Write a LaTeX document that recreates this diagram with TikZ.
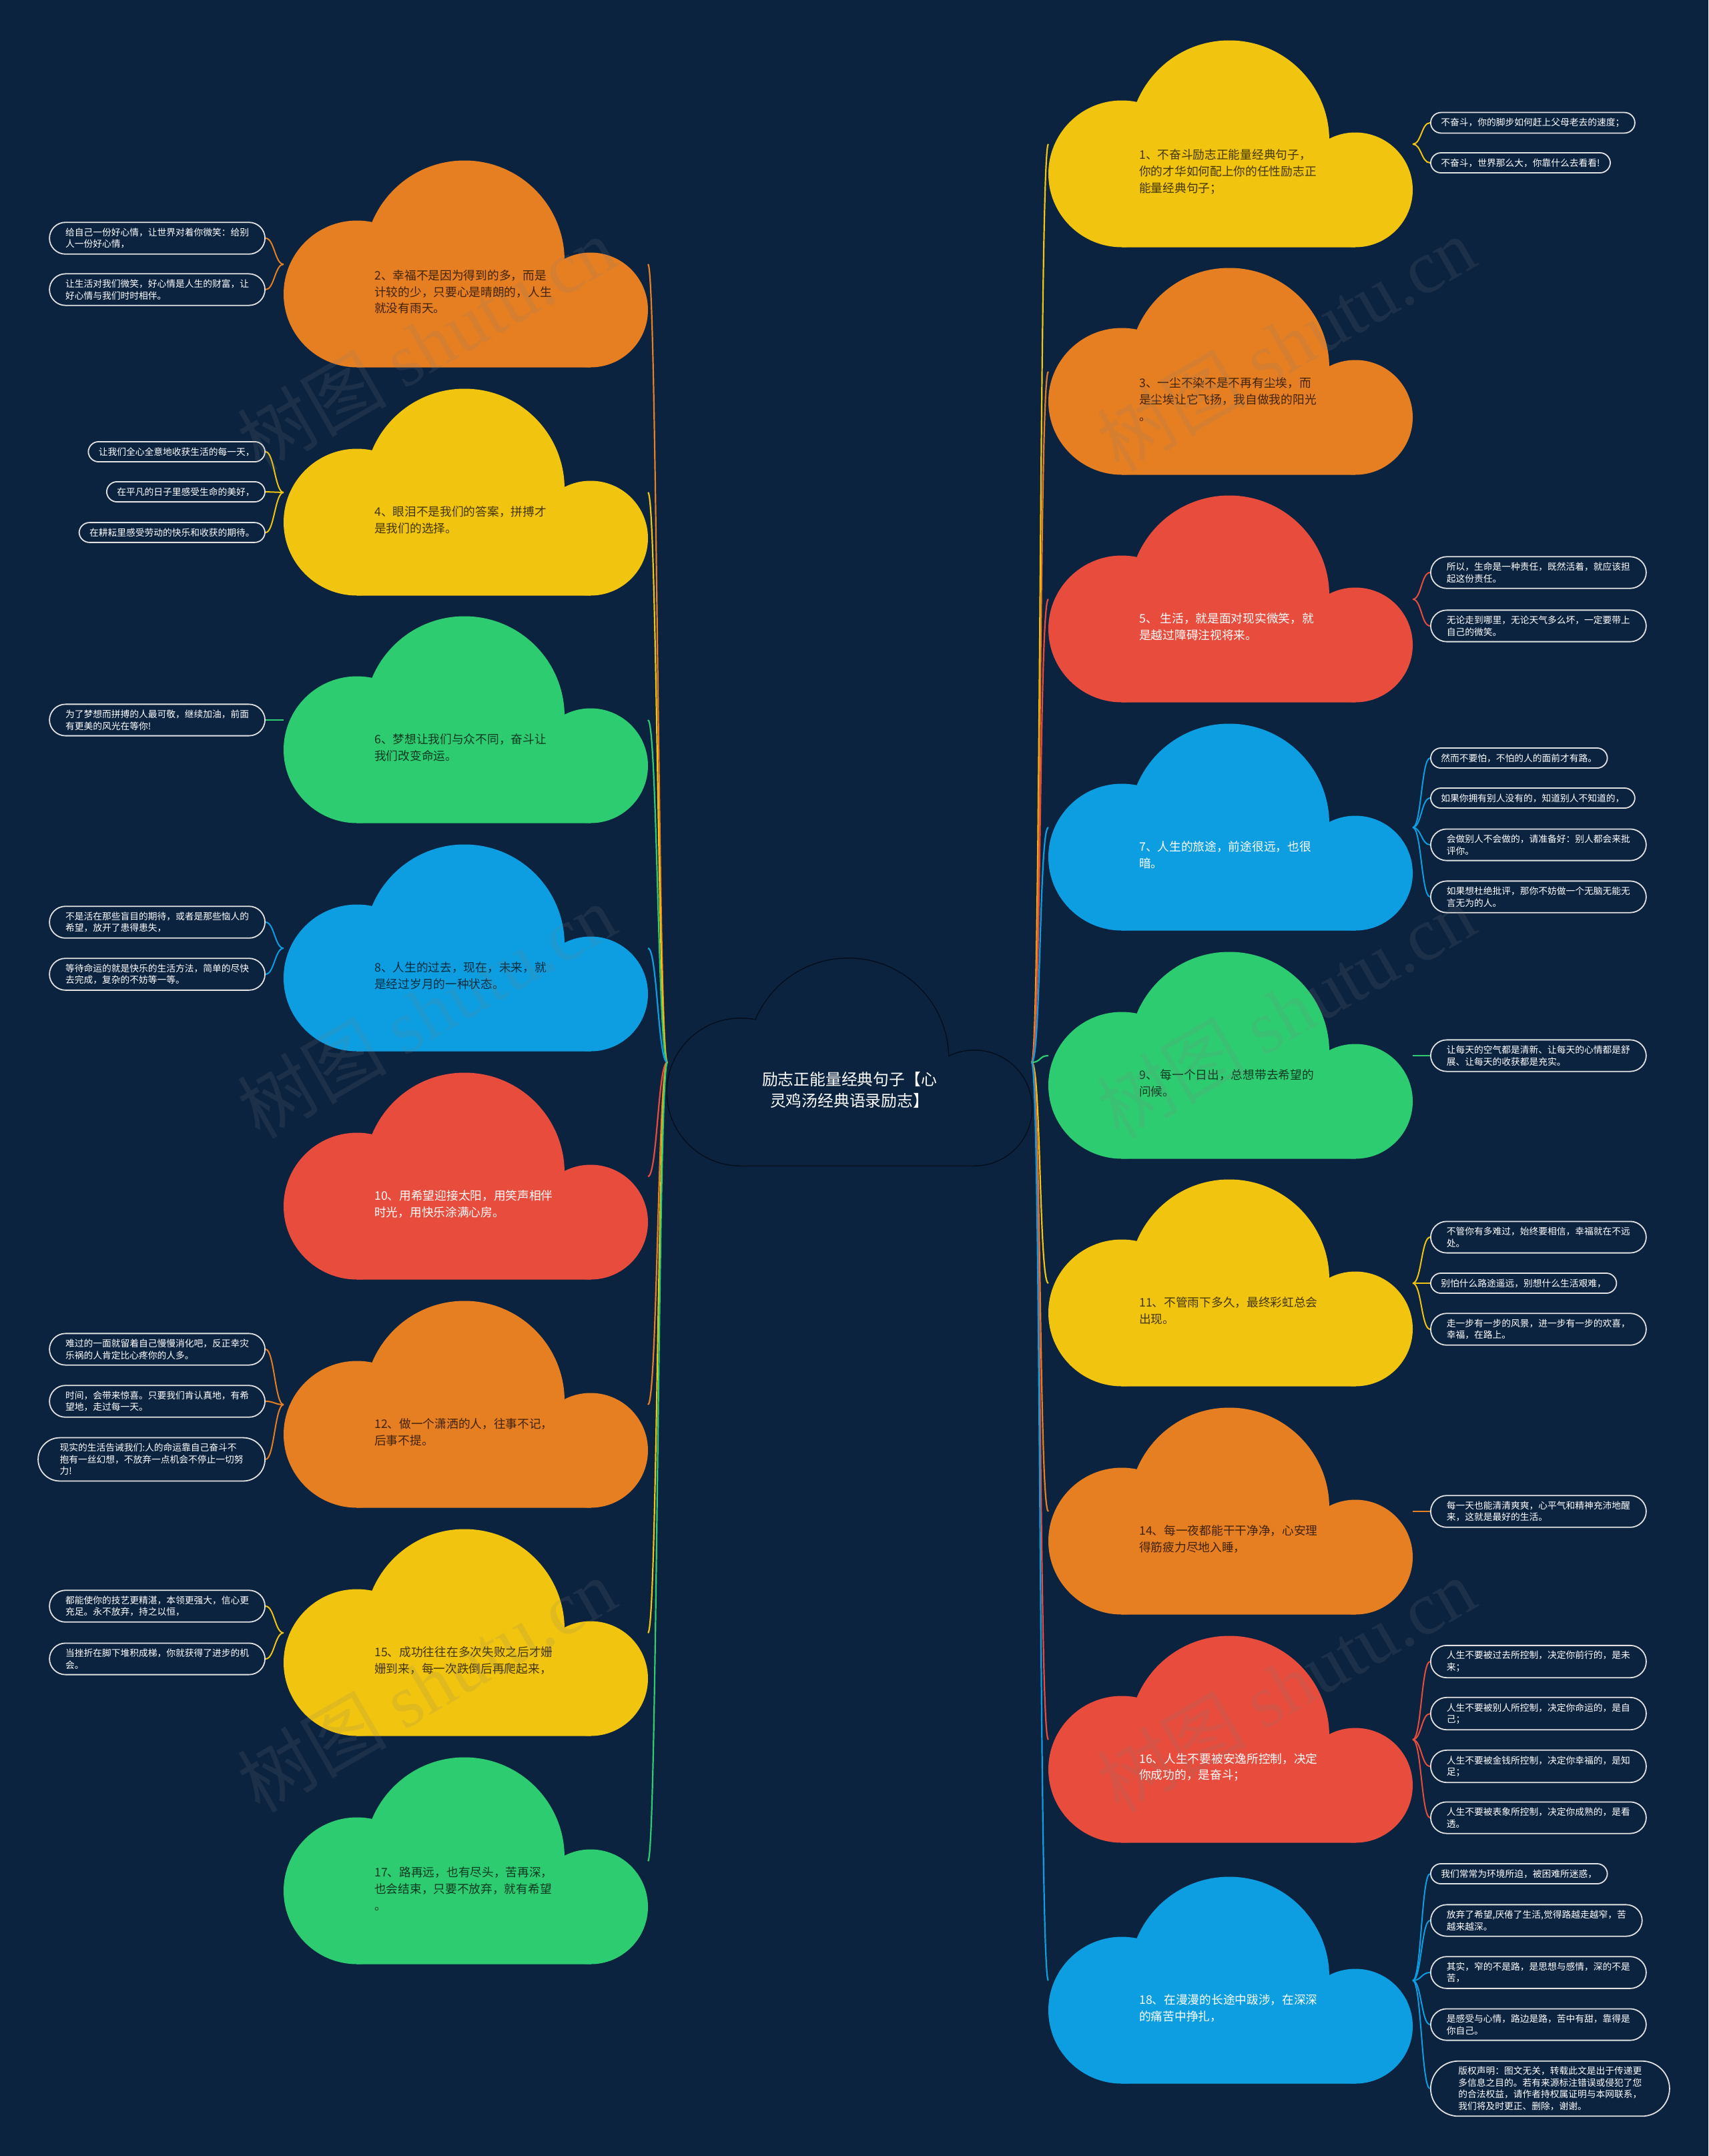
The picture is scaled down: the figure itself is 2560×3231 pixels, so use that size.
\documentclass[tikz,border=0pt]{standalone}
\usepackage{fontspec}
\newfontfamily\cjk{Noto Sans CJK SC}
\newfontfamily\wmserif{Liberation Serif}
\usetikzlibrary{backgrounds}
\definecolor{bg}{RGB}{12,35,64}
\definecolor{corange}{RGB}{230,126,34}
\definecolor{cyellow}{RGB}{241,196,15}
\definecolor{cred}{RGB}{231,76,60}
\definecolor{cgreen}{RGB}{46,204,113}
\definecolor{cblue}{RGB}{12,158,225}
\definecolor{leafborder}{RGB}{225,225,225}
\definecolor{ctrline}{RGB}{4,14,28}
\newcommand\drawcloudshape[1]{%
 \fill[#1] (110,110) circle[radius=110];
 \fill[#1] (271,160) circle[radius=150];
 \fill[#1] (460,86) circle[radius=86];
 \fill[#1] (110,0) -- (460,0) -- (460,86) -- (271,160) -- (110,110) -- cycle;}
\newcommand\cloud[6]{%
 \node[cloudbox] (#1) at (#2,-#3) {};
 \begin{scope}[shift={(#1.south west)}]
  \drawcloudshape{#4}
  \node[cloudtext,#5] (#1t) at (136,113) {#6};
 \end{scope}}
\begin{document}
\begin{tikzpicture}[x=1pt,y=1pt,
 cloudbox/.style={minimum width=546, minimum height=309, inner sep=0, outer sep=0},
 cloudtext/.style={anchor=west, align=left, inner sep=0, font=\cjk\fontsize{17.7}{24.7}\selectfont},
 dk/.style={text=black, text opacity=0.72},
 wt/.style={text=white},
 leaf/.style={rectangle, rounded corners=#1, draw=leafborder, line width=1.8, fill=bg, text=white, align=left, inner xsep=#1, inner ysep=8.5, font=\cjk\fontsize{13.75}{17.5}\selectfont},
 la/.style={leaf=15.5},
 lb/.style={leaf=24},
 lc/.style={leaf=32.5},
 ld/.style={leaf=41.5},
 main/.style={line width=2.2},
 sub/.style={line width=2},
 wmark/.style={rotate=30, text=gray, text opacity=0.15, inner sep=0, font=\fontsize{112}{112}\selectfont}]
\useasboundingbox (0,0) rectangle (2560,-3231);
\begin{scope}[on background layer]
\fill[bg] (0,0) rectangle (2560,-3231);
\end{scope}
% center cloud
\node[cloudbox] (ctr) at (1273,-1592) {};
\begin{scope}[shift={(ctr.south west)}]
 \draw[ctrline,line width=3] (110,110) circle[radius=110];
 \draw[ctrline,line width=3] (271,160) circle[radius=150];
 \draw[ctrline,line width=3] (460,86) circle[radius=86];
 \draw[ctrline,line width=3] (110,0) -- (460,0);
 \drawcloudshape{bg}
 \node[align=center, text=white, inner sep=0, font=\cjk\fontsize{23.8}{32}\selectfont] (ctrt) at (273,113) {励志正能量经典句子【心\\灵鸡汤经典语录励志】};
\end{scope}
% right clouds
\cloud{c1}{1844}{216}{cyellow}{dk}{1、不奋斗励志正能量经典句子，\\你的才华如何配上你的任性励志正\\能量经典句子；}
\cloud{c3}{1844}{557}{corange}{dk}{3、一尘不染不是不再有尘埃，而\\是尘埃让它飞扬，我自做我的阳光\\。}
\cloud{c5}{1844}{898}{cred}{wt}{5、 生活，就是面对现实微笑，就\\是越过障碍注视将来。}
\cloud{c7}{1844}{1240}{cblue}{wt}{7、人生的旅途，前途很远，也很\\暗。}
\cloud{c9}{1844}{1582}{cgreen}{dk}{9、 每一个日出，总想带去希望的\\问候。}
\cloud{c11}{1844}{1923}{cyellow}{dk}{11、不管雨下多久，最终彩虹总会\\出现。}
\cloud{c14}{1844}{2265}{corange}{dk}{14、每一夜都能干干净净，心安理\\得筋疲力尽地入睡，}
\cloud{c16}{1844}{2607}{cred}{wt}{16、人生不要被安逸所控制，决定\\你成功的，是奋斗；}
\cloud{c18}{1844}{2968}{cblue}{wt}{18、在漫漫的长途中跋涉，在深深\\的痛苦中挣扎，}
% left clouds
\cloud{c2}{698}{396}{corange}{dk}{2、幸福不是因为得到的多，而是\\计较的少，只要心是晴朗的，人生\\就没有雨天。}
\cloud{c4}{698}{738}{cyellow}{dk}{4、眼泪不是我们的答案，拼搏才\\是我们的选择。}
\cloud{c6}{698}{1079}{cgreen}{dk}{6、梦想让我们与众不同，奋斗让\\我们改变命运。}
\cloud{c8}{698}{1421}{cblue}{dk}{8、人生的过去，现在，未来，就\\是经过岁月的一种状态。}
\cloud{c10}{698}{1763}{cred}{wt}{10、用希望迎接太阳，用笑声相伴\\时光，用快乐涂满心房。}
\cloud{c12}{698}{2105}{corange}{dk}{12、做一个潇洒的人，往事不记，\\后事不提。}
\cloud{c15}{698}{2447}{cyellow}{dk}{15、成功往往在多次失败之后才姗\\姗到来，每一次跌倒后再爬起来，}
\cloud{c17}{698}{2789}{cgreen}{dk}{17、路再远，也有尽头，苦再深，\\也会结束，只要不放弃，就有希望\\。}
% main connectors
\begin{scope}[on background layer]
\foreach \n/\col in {c2/corange,c4/cyellow,c6/cgreen,c8/cblue,c10/cred,c12/corange,c15/cyellow,c17/cgreen}
  \draw[main,\col] (ctr.west) .. controls +(-14,0) and +(14,0) .. (\n.east);
\foreach \n/\col in {c1/cyellow,c3/corange,c5/cred,c7/cblue,c9/cgreen,c11/cyellow,c14/corange,c16/cred,c18/cblue}
  \draw[main,\col] (ctr.east) .. controls +(14,0) and +(-14,0) .. (\n.west);
\end{scope}
% left leaves
\node[lb,anchor=east] (l2a) at (398,-357) {给自己一份好心情，让世界对着你微笑：给别\\人一份好心情，};
\node[lb,anchor=east] (l2b) at (398,-434) {让生活对我们微笑，好心情是人生的财富，让\\好心情与我们时时相伴。};
\node[la,anchor=east] (l4a) at (398,-677) {让我们全心全意地收获生活的每一天，};
\node[la,anchor=east] (l4b) at (398,-737) {在平凡的日子里感受生命的美好，};
\node[la,anchor=east] (l4c) at (398,-798) {在耕耘里感受劳动的快乐和收获的期待。};
\node[lb,anchor=east] (l6a) at (398,-1079) {为了梦想而拼搏的人最可敬，继续加油，前面\\有更美的风光在等你!};
\node[lb,anchor=east] (l8a) at (398,-1382) {不是活在那些盲目的期待，或者是那些恼人的\\希望，放开了患得患失，};
\node[lb,anchor=east] (l8b) at (398,-1460) {等待命运的就是快乐的生活方法，简单的尽快\\去完成，复杂的不妨等一等。};
\node[lb,anchor=east] (l12a) at (398,-2022) {难过的一面就留着自己慢慢消化吧，反正幸灾\\乐祸的人肯定比心疼你的人多。};
\node[lb,anchor=east] (l12b) at (398,-2100) {时间，会带来惊喜。只要我们肯认真地，有希\\望地，走过每一天。};
\node[lc,anchor=east] (l12c) at (398,-2187) {现实的生活告诫我们:人的命运靠自己奋斗不\\抱有一丝幻想，不放弃一点机会不停止一切努\\力!};
\node[lb,anchor=east] (l15a) at (398,-2407) {都能使你的技艺更精湛，本领更强大，信心更\\充足。永不放弃，持之以恒，};
\node[lb,anchor=east] (l15b) at (398,-2486) {当挫折在脚下堆积成梯，你就获得了进步的机\\会。};
% right leaves
\node[la,anchor=west] (l1a) at (2143,-184) {不奋斗，你的脚步如何赶上父母老去的速度；};
\node[la,anchor=west] (l1b) at (2143,-244) {不奋斗，世界那么大，你靠什么去看看!};
\node[lb,anchor=west] (l5a) at (2143,-858) {所以，生命是一种责任，既然活着，就应该担\\起这份责任。};
\node[lb,anchor=west] (l5b) at (2143,-938) {无论走到哪里，无论天气多么坏，一定要带上\\自己的微笑。};
\node[la,anchor=west] (l7a) at (2143,-1136) {然而不要怕，不怕的人的面前才有路。};
\node[la,anchor=west] (l7b) at (2143,-1196) {如果你拥有别人没有的，知道别人不知道的，};
\node[lb,anchor=west] (l7c) at (2143,-1266) {会做别人不会做的，请准备好：别人都会来批\\评你。};
\node[lb,anchor=west] (l7d) at (2143,-1344) {如果想杜绝批评，那你不妨做一个无脑无能无\\言无为的人。};
\node[lb,anchor=west] (l9a) at (2143,-1582) {让每天的空气都是清新、让每天的心情都是舒\\展、让每天的收获都是充实。};
\node[lb,anchor=west] (l11a) at (2143,-1854) {不管你有多难过，始终要相信，幸福就在不远\\处。};
\node[la,anchor=west] (l11b) at (2143,-1923) {别怕什么路途遥远，别想什么生活艰难，};
\node[lb,anchor=west] (l11c) at (2143,-1992) {走一步有一步的风景，进一步有一步的欢喜，\\幸福，在路上。};
\node[lb,anchor=west] (l14a) at (2143,-2265) {每一天也能清清爽爽，心平气和精神充沛地醒\\来，这就是最好的生活。};
\node[lb,anchor=west] (l16a) at (2143,-2490) {人生不要被过去所控制，决定你前行的，是未\\来；};
\node[lb,anchor=west] (l16b) at (2143,-2568) {人生不要被别人所控制，决定你命运的，是自\\己；};
\node[lb,anchor=west] (l16c) at (2143,-2647) {人生不要被金钱所控制，决定你幸福的，是知\\足；};
\node[lb,anchor=west] (l16d) at (2143,-2724) {人生不要被表象所控制，决定你成熟的，是看\\透。};
\node[la,anchor=west] (l18a) at (2143,-2808) {我们常常为环境所迫，被困难所迷惑，};
\node[lb,anchor=west] (l18b) at (2143,-2878) {放弃了希望,厌倦了生活,觉得路越走越窄，苦\\越来越深。};
\node[lb,anchor=west] (l18c) at (2143,-2956) {其实，窄的不是路，是思想与感情，深的不是\\苦，};
\node[lb,anchor=west] (l18d) at (2143,-3034) {是感受与心情，路边是路，苦中有甜，靠得是\\你自己。};
\node[ld,anchor=west] (l18e) at (2143,-3130) {版权声明：图文无关，转载此文是出于传递更\\多信息之目的。若有来源标注错误或侵犯了您\\的合法权益，请作者持权属证明与本网联系，\\我们将及时更正、删除，谢谢。};
% leaf connectors
\foreach \c/\l/\col in {c2/l2a/corange,c2/l2b/corange,c4/l4a/cyellow,c4/l4b/cyellow,c4/l4c/cyellow,c6/l6a/cgreen,c8/l8a/cblue,c8/l8b/cblue,c12/l12a/corange,c12/l12b/corange,c12/l12c/corange,c15/l15a/cyellow,c15/l15b/cyellow}
  \draw[sub,\col] (\c.west) .. controls +(-13,0) and +(13,0) .. (\l.east);
\foreach \c/\l/\col in {c1/l1a/cyellow,c1/l1b/cyellow,c5/l5a/cred,c5/l5b/cred,c7/l7a/cblue,c7/l7b/cblue,c7/l7c/cblue,c7/l7d/cblue,c9/l9a/cgreen,c11/l11a/cyellow,c11/l11b/cyellow,c11/l11c/cyellow,c14/l14a/corange,c16/l16a/cred,c16/l16b/cred,c16/l16c/cred,c16/l16d/cred,c18/l18a/cblue,c18/l18b/cblue,c18/l18c/cblue,c18/l18d/cblue,c18/l18e/cblue}
  \draw[sub,\col] (\c.east) .. controls +(13,0) and +(-13,0) .. (\l.west);
% watermarks
\foreach \wx/\wy [count=\i] in {639/515,1927/515,639/1515,1927/1515,639/2525,1927/2525}
  \node[wmark] (wm\i) at (\wx,-\wy) {\cjk 树图\ \wmserif shutu.cn};
\end{tikzpicture}
\end{document}
